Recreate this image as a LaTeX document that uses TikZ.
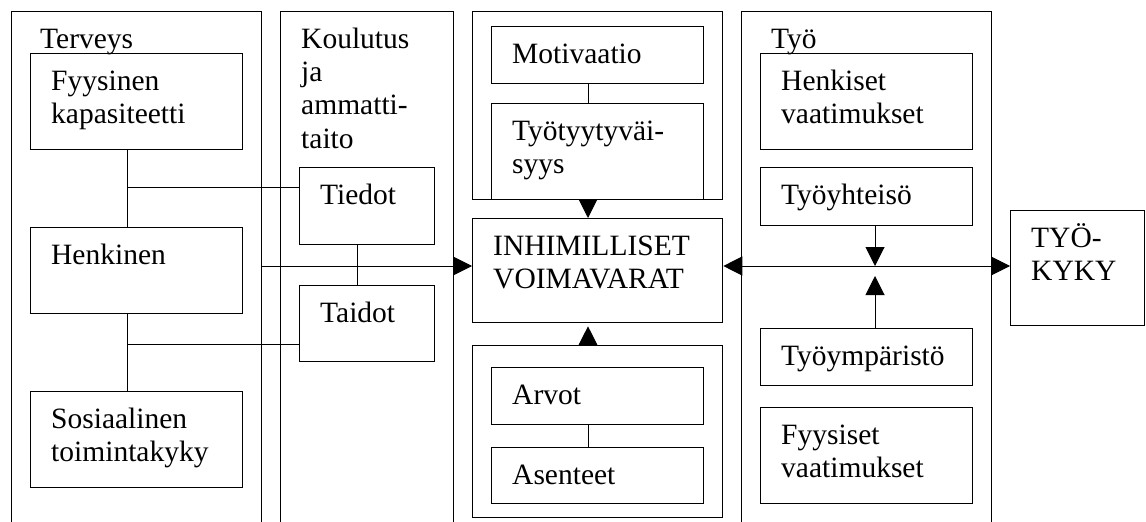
\documentclass[tikz,border=0pt]{standalone}
\usepackage{fontspec}
\setmainfont{Liberation Serif}
\usetikzlibrary{arrows.meta}
\newcommand{\boxfont}{\fontsize{29.5}{33.3}\selectfont}
\tikzset{
  txt/.style={anchor=north west, inner sep=0pt, align=left, text width=230pt, text height=20pt, font=\boxfont, xshift=21pt, yshift=-17pt},
  box/.style={draw, line width=1.3pt, anchor=north west, inner sep=0pt, label={[txt]north west:#1}},
  box/.default={},
  link/.style={line width=1pt},
  arr/.style={line width=1pt, -{Triangle[length=19pt,width=19pt]}},
  arrs/.style={line width=1pt, {Triangle[length=19pt,width=19pt]}-{Triangle[length=19pt,width=19pt]}},
}
\begin{document}
\begin{tikzpicture}[x=1pt,y=-1pt]
\useasboundingbox (0,0) rectangle (1146,522);
\clip (0,0) rectangle (1146,522);
\node[box, label={[txt, xshift=8pt]north west:Terveys}, minimum width=250pt, minimum height=540pt] (terv) at (11,11) {};
\node[box={Koulutus\\ja\\ammatti-\\taito}, minimum width=173pt, minimum height=540pt] (koul) at (280,11) {};
\node[box, minimum width=250pt, minimum height=188pt] (ylos) at (472,11) {};
\node[box, minimum width=250pt, minimum height=172pt] (alas) at (472,345) {};
\node[box, label={[txt, xshift=9pt]north west:Työ}, minimum width=250pt, minimum height=540pt] (tyo) at (741,11) {};
\node[box={Fyysinen\\kapasiteetti}, minimum width=212pt, minimum height=96pt] (fyys) at (30,53) {};
\node[box={Henkinen}, minimum width=212pt, minimum height=86pt] (henk) at (30,227) {};
\node[box={Sosiaalinen\\toimintakyky}, minimum width=212pt, minimum height=96pt] (sosi) at (30,391) {};
\node[box={Tiedot}, minimum width=135pt, minimum height=77pt] (tied) at (299,167) {};
\node[box={Taidot}, minimum width=135pt, minimum height=76pt] (taid) at (299,285) {};
\node[box={Motivaatio}, minimum width=212pt, minimum height=57pt] (moti) at (491,26) {};
\node[box={Työtyytyväi-\\syys}, minimum width=212pt, minimum height=96pt] (tyyt) at (491,103) {};
\node[box={INHIMILLISET\\VOIMAVARAT}, minimum width=250pt, minimum height=104pt] (inhi) at (472,218) {};
\node[box={Arvot}, minimum width=212pt, minimum height=57pt] (arvo) at (491,367) {};
\node[box={Asenteet}, minimum width=212pt, minimum height=56pt] (asen) at (491,447) {};
\node[box={Henkiset\\vaatimukset}, minimum width=212pt, minimum height=96pt] (henv) at (760,53) {};
\node[box={Työyhteisö}, minimum width=212pt, minimum height=58pt] (yhte) at (760,167) {};
\node[box={Työympäristö}, minimum width=212pt, minimum height=57pt] (ympa) at (760,328) {};
\node[box={Fyysiset\\vaatimukset}, minimum width=212pt, minimum height=96pt] (fyyv) at (760,407) {};
\node[box={TYÖ-\\KYKY}, minimum width=134pt, minimum height=115pt] (kyky) at (1010,210) {};
\coordinate (t1) at (127,187);
\coordinate (t2) at (127,344);
\coordinate (k1) at (357,0);
\coordinate (c1) at (588,0);
\coordinate (h1) at (262,266);
\coordinate (y1) at (875,266);
\draw[link] (fyys.south -| t1) -- (henk.north -| t1);
\draw[link] (t1) -- (t1 -| tied.west);
\draw[link] (henk.south -| t2) -- (sosi.north -| t2);
\draw[link] (t2) -- (t2 -| taid.west);
\draw[link] (tied.south -| k1) -- (taid.north -| k1);
\draw[link] (moti.south -| c1) -- (tyyt.north -| c1);
\draw[link] (arvo.south -| c1) -- (asen.north -| c1);
\draw[arr] (h1) -- (h1 -| inhi.west);
\draw[arr] (ylos.south -| c1) -- (inhi.north -| c1);
\draw[arr] (alas.north -| c1) -- ([yshift=-3pt]inhi.south -| c1);
\draw[arrs] (h1 -| inhi.east) -- (h1 -| kyky.west);
\draw[arr] (yhte.south -| y1) -- (y1);
\draw[arr] (ympa.north -| y1) -- ([yshift=-10pt]y1);
\end{tikzpicture}
\end{document}
